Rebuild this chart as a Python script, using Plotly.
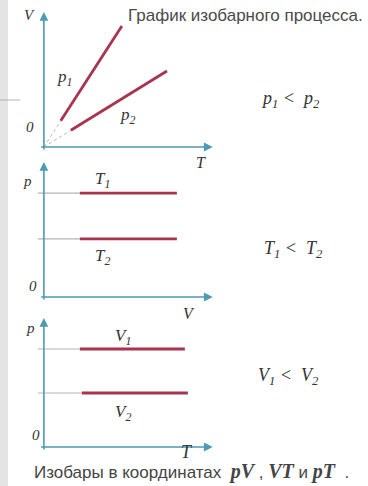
import plotly.graph_objects as go

# panel 1: V-T, isobars p1, p2 (thin part from origin, thick part after)
vt_T_start = [1.0, 1.6]
vt_V_start = [1.94, 1.24]
vt_T_end = [4.62, 7.29]
vt_V_end = [8.96, 5.63]
vt_names = ['p<sub>1</sub>', 'p<sub>2</sub>']

# panel 2: p-V, isotherms T1, T2
pv_p = [7.7, 4.3]
pv_V_start = [2.13, 2.13]
pv_V_end = [7.88, 7.88]
pv_names = ['T<sub>1</sub>', 'T<sub>2</sub>']

# panel 3: p-T, isochores V1, V2
pt_p = [7.26, 4.0]
pt_T_start = [2.13, 2.25]
pt_T_end = [8.35, 8.53]
pt_names = ['V<sub>1</sub>', 'V<sub>2</sub>']

AXIS_COLOR = '#4b9bb3'
LINE_COLOR = '#a83550'
THIN_COLOR = '#b4b4b4'
SERIF = 'Liberation Serif'
SANS = 'Liberation Sans'

W, H = 368, 486
# panel pixel bands (top, bottom) and y ranges
bands = [(0, 160), (160, 305), (305, 486)]
yranges = [[-0.963, 10.889], [-0.593, 10.148], [-2.889, 10.519]]
xrange_ = [-2.6, 19.2]

fig = go.Figure()

for i, (top, bot) in enumerate(bands):
    ax = '' if i == 0 else str(i + 1)
    fig.layout['xaxis' + ax] = dict(domain=[0, 1], range=xrange_, visible=False,
                                    anchor='y' + ax, fixedrange=True)
    fig.layout['yaxis' + ax] = dict(domain=[1 - bot / H, 1 - top / H], range=yranges[i],
                                    visible=False, anchor='x' + ax, fixedrange=True)

def add_line(x, y, k, color, width, dash='solid'):
    xa = 'x' if k == 0 else 'x%d' % (k + 1)
    ya = 'y' if k == 0 else 'y%d' % (k + 1)
    fig.add_trace(go.Scatter(x=x, y=y, mode='lines', xaxis=xa, yaxis=ya,
                             line=dict(color=color, width=width, dash=dash),
                             hoverinfo='skip', showlegend=False))

def add_axes(k, xmax, ymax):
    xa = 'x' if k == 0 else 'x%d' % (k + 1)
    ya = 'y' if k == 0 else 'y%d' % (k + 1)
    for tip, tail in [((xmax, 0), (-0.25, 0)), ((0, ymax), (0, -0.3))]:
        fig.add_annotation(x=tip[0], y=tip[1], ax=tail[0], ay=tail[1], xref=xa, yref=ya,
                           axref=xa, ayref=ya, showarrow=True, arrowhead=2, arrowsize=1.1,
                           arrowwidth=1.6, arrowcolor=AXIS_COLOR, text='')

def label(k, x, y, text, size=16, yshift=0):
    xa = 'x' if k == 0 else 'x%d' % (k + 1)
    ya = 'y' if k == 0 else 'y%d' % (k + 1)
    fig.add_annotation(x=x, y=y, xref=xa, yref=ya, text=text, showarrow=False,
                       xanchor='center', yanchor='middle', yshift=yshift,
                       font=dict(family=SERIF, size=size, color='#333333', style='italic'))

# panel 1
add_axes(0, 10.0, 10.0)
for i in range(2):
    add_line([0, vt_T_start[i]], [0, vt_V_start[i]], 0, THIN_COLOR, 1, 'dot')
    add_line([vt_T_start[i], vt_T_end[i]], [vt_V_start[i], vt_V_end[i]], 0, LINE_COLOR, 2.8)
label(0, 1.2, 5.1, vt_names[0], 17)
label(0, 5.0, 2.3, vt_names[1], 17)
label(0, -0.8, 1.45, '0', 15)
label(0, -0.85, 9.8, 'V', 15)
label(0, 9.3, -0.9, 'T', 16, yshift=-3)
label(0, 14.6, 3.5, 'p<sub>1</sub> &lt;  p<sub>2</sub>', 18)

# panel 2
add_axes(1, 10.0, 10.0)
for i in range(2):
    add_line([-0.36, pv_V_start[i]], [pv_p[i], pv_p[i]], 1, THIN_COLOR, 1.2)
    add_line([pv_V_start[i], pv_V_end[i]], [pv_p[i], pv_p[i]], 1, LINE_COLOR, 2.8)
label(1, 3.5, pv_p[0] + 1.0, pv_names[0], 17)
label(1, 3.5, pv_p[1] - 1.35, pv_names[1], 17)
label(1, -0.65, 0.85, '0', 15)
label(1, -0.95, 8.6, 'p', 15)
label(1, 8.6, -0.55, 'V', 16, yshift=-9)
label(1, 14.8, 3.5, 'T<sub>1</sub> &lt;  T<sub>2</sub>', 18)

# panel 3
add_axes(2, 10.0, 9.56)
for i in range(2):
    add_line([-0.36, pt_T_start[i]], [pt_p[i], pt_p[i]], 2, THIN_COLOR, 1.2)
    add_line([pt_T_start[i], pt_T_end[i]], [pt_p[i], pt_p[i]], 2, LINE_COLOR, 2.8)
label(2, 4.7, pt_p[0] + 0.9, pt_names[0], 17)
label(2, 4.7, pt_p[1] - 1.45, pt_names[1], 17)
label(2, -0.45, 0.9, '0', 15)
label(2, -0.8, 8.8, 'p', 15)
label(2, 8.5, -0.35, 'T', 18)
label(2, 14.5, 5.2, 'V<sub>1</sub> &lt;  V<sub>2</sub>', 18)

# titles
fig.add_annotation(x=365 / W, y=1 - 16 / H, xref='paper', yref='paper',
                   xanchor='right', yanchor='middle',
                   text='График изобарного процесса.', showarrow=False,
                   font=dict(family=SANS, size=17, color='#4a4a4a'))
it = '<span style="font-family:Liberation Serif;font-style:italic;font-weight:bold;font-size:20px">%s</span>'
fig.add_annotation(x=32 / W, y=1 - 471 / H, xref='paper', yref='paper',
                   xanchor='left', yanchor='middle',
                   text='Изобары в координатах&nbsp;&nbsp;' + it % 'pV' + '&nbsp;, ' + it % 'VT'
                        + '&nbsp;и&nbsp;' + it % 'pT' + '&nbsp;&nbsp;.',
                   showarrow=False, font=dict(family=SANS, size=17, color='#444444'))

# page edge decorations
fig.add_shape(type='rect', xref='paper', yref='paper', x0=0, x1=8 / W, y0=0, y1=1,
              fillcolor='#e4e4e4', line=dict(width=0), layer='below')
fig.add_shape(type='line', xref='paper', yref='paper', x0=0, x1=20 / W,
              y0=1 - 100 / H, y1=1 - 100 / H, line=dict(color='#b0b0b0', width=1))

fig.update_layout(width=W, height=H, margin=dict(l=0, r=0, t=0, b=0),
                  paper_bgcolor='white', plot_bgcolor='rgba(0,0,0,0)', showlegend=False)

fig.write_html("out.html", config={'displayModeBar': False},
               post_script="document.body.style.margin='0';")
